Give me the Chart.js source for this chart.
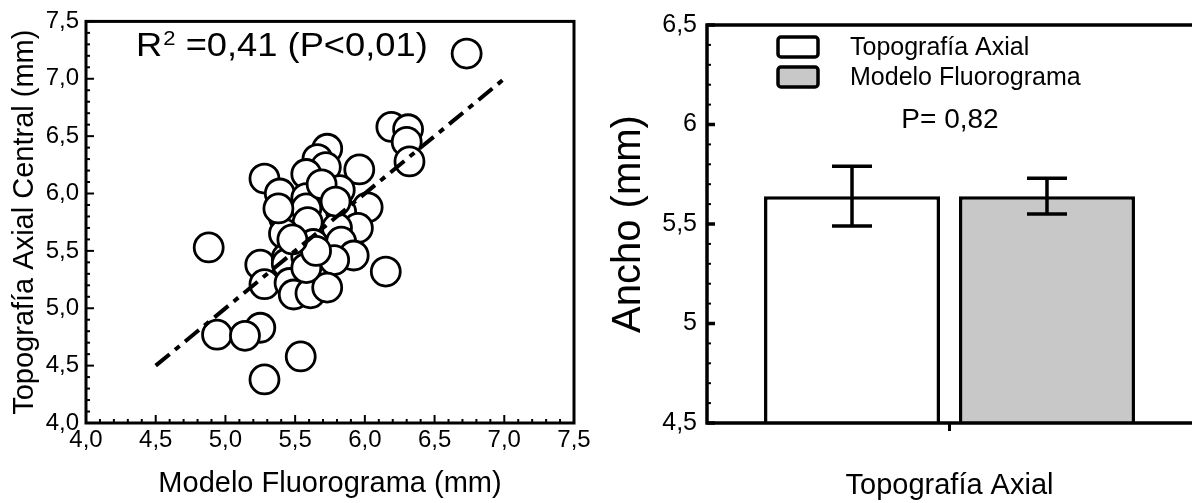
<!DOCTYPE html>
<html><head><meta charset="utf-8">
<script src="https://cdn.jsdelivr.net/npm/chart.js@4/dist/chart.umd.min.js"></script>
<style>
html,body{margin:0;padding:0;background:#fff;}
#wrap{position:relative;width:1192px;height:503px;overflow:hidden;background:#fff;}
#c1{position:absolute;left:0;top:0;}
#c2{position:absolute;left:600px;top:0;}
</style></head><body>
<div id="wrap"><canvas id="c1" width="600" height="503"></canvas><canvas id="c2" width="592" height="503"></canvas></div>
<script>
const FONT = '"Liberation Sans", Arial, Helvetica, sans-serif';

// ---------- Scatter data (left panel) ----------
const fluoroX = [6.73, 6.19, 6.31, 6.30, 6.32, 5.96, 5.73, 5.66, 5.72, 5.58,
                 5.28, 5.39, 5.58, 5.82, 6.02, 5.83, 5.42, 5.58, 5.59, 5.95,
                 5.80, 5.63, 5.42, 5.83, 5.92, 5.78, 4.88, 5.25, 5.44, 5.44,
                 5.58, 6.15, 5.28, 5.46, 5.49, 5.61, 5.73, 5.25, 4.94, 5.14,
                 5.54, 5.28, 5.58, 5.38, 5.69, 5.79, 5.65, 5.48];
const axialY  = [7.22, 6.58, 6.56, 6.45, 6.28, 6.21, 6.39, 6.30, 6.23, 6.17,
                 6.13, 6.00, 5.96, 6.03, 5.88, 5.84, 5.79, 5.87, 5.75, 5.70,
                 5.70, 5.56, 5.65, 5.58, 5.46, 5.42, 5.53, 5.38, 5.44, 5.39,
                 5.45, 5.32, 5.21, 5.22, 5.12, 5.13, 5.18, 4.83, 4.77, 4.76,
                 4.58, 4.38, 5.35, 5.87, 6.08, 5.93, 5.50, 5.60];
const fitLineX = [4.5, 7.0];
const fitLineY = [4.5, 7.0];
const scatterTickValues = [4.0, 4.5, 5.0, 5.5, 6.0, 6.5, 7.0, 7.5];
const scatterTickLabels = ['4,0', '4,5', '5,0', '5,5', '6,0', '6,5', '7,0', '7,5'];
const scatterXTitle = 'Modelo Fluorograma (mm)';
const scatterYTitle = 'Topografía Axial Central (mm)';
const r2Main = 'R';
const r2Sup = '2';
const r2Rest = ' =0,41 (P<0,01)';

// ---------- Bar data (right panel) ----------
const barCategories = ['Topografía Axial'];
const barSeriesNames = ['Topografía Axial', 'Modelo Fluorograma'];
const barMeans = [5.64, 5.64];
const barErrors = [0.15, 0.09];
const barColors = ['#ffffff', '#c8c8c8'];
const barTickValues = [4.5, 5.0, 5.5, 6.0, 6.5];
const barTickLabels = ['4,5', '5', '5,5', '6', '6,5'];
const barYTitle = 'Ancho (mm)';
const pValueLabel = 'P= 0,82';

function labelFor(values, labels, v) {
  for (let i = 0; i < values.length; i++) if (Math.abs(values[i] - v) < 1e-6) return labels[i];
  return '';
}

// ---------- Left chart ----------
const leftFrame = {
  id: 'leftFrame',
  afterDraw(chart) {
    const {ctx, chartArea: a, scales: {x, y}} = chart;
    ctx.save();
    ctx.strokeStyle = '#000';
    ctx.lineWidth = 3;
    ctx.strokeRect(a.left, a.top, a.right - a.left, a.bottom - a.top);
    ctx.lineWidth = 2;
    const minorStep = 0.1;
    const nx = Math.round((x.max - x.min) / minorStep);
    for (let i = 0; i <= nx; i++) {
      const px = x.getPixelForValue(x.min + i * minorStep);
      const len = (i % 5 === 0) ? 8 : 4;
      ctx.beginPath(); ctx.moveTo(px, a.bottom); ctx.lineTo(px, a.bottom - len); ctx.stroke();
    }
    const ny = Math.round((y.max - y.min) / minorStep);
    for (let i = 0; i <= ny; i++) {
      const py = y.getPixelForValue(y.min + i * minorStep);
      const len = (i % 5 === 0) ? 8 : 4;
      ctx.beginPath(); ctx.moveTo(a.left, py); ctx.lineTo(a.left + len, py); ctx.stroke();
    }
    ctx.fillStyle = '#000';
    ctx.textBaseline = 'alphabetic';
    ctx.textAlign = 'left';
    ctx.translate(136, 56);
    ctx.scale(1.1, 1);
    ctx.font = '33px ' + FONT;
    ctx.fillText(r2Main, 0, 0);
    const w1 = ctx.measureText(r2Main).width;
    ctx.font = '20px ' + FONT;
    ctx.fillText(r2Sup, w1 + 1, -11);
    const w2 = ctx.measureText(r2Sup).width;
    ctx.font = '33px ' + FONT;
    ctx.fillText(r2Rest, w1 + w2 + 1, 0);
    ctx.restore();
  }
};

new Chart(document.getElementById('c1'), {
  type: 'scatter',
  data: {
    datasets: [
      {
        type: 'line',
        data: fitLineX.map((v, i) => ({x: v, y: fitLineY[i]})),
        borderColor: '#000',
        borderWidth: 4,
        borderDash: [18, 7, 6, 7],
        pointRadius: 0,
        fill: false,
        order: 0
      },
      {
        data: fluoroX.map((v, i) => ({x: v, y: axialY[i]})),
        pointRadius: 14.5,
        pointBorderWidth: 2.8,
        pointBackgroundColor: '#ffffff',
        pointBorderColor: '#000000',
        order: 1
      }
    ]
  },
  options: {
    responsive: false,
    animation: false,
    layout: {padding: {top: 17, right: 26, left: 0, bottom: 0}},
    plugins: {legend: {display: false}, tooltip: {enabled: false}},
    scales: {
      x: {
        type: 'linear', min: 4.0, max: 7.5,
        afterBuildTicks: s => { s.ticks = scatterTickValues.map(v => ({value: v})); },
        afterFit: s => { s.height = 80; },
        grid: {display: false, drawTicks: false},
        border: {display: false},
        ticks: {
          padding: 3, color: '#000', maxRotation: 0, autoSkip: false,
          font: {family: FONT, size: 24},
          callback: v => labelFor(scatterTickValues, scatterTickLabels, v)
        },
        title: {display: true, text: scatterXTitle, color: '#000',
                font: {family: FONT, size: 29}, padding: {top: 0, bottom: 2}}
      },
      y: {
        type: 'linear', min: 4.0, max: 7.5,
        afterBuildTicks: s => { s.ticks = scatterTickValues.map(v => ({value: v})); },
        afterFit: s => { s.width = 86; },
        grid: {display: false, drawTicks: false},
        border: {display: false},
        ticks: {
          padding: 7, color: '#000', autoSkip: false,
          font: {family: FONT, size: 24},
          callback: v => labelFor(scatterTickValues, scatterTickLabels, v)
        },
        title: {display: true, text: scatterYTitle, color: '#000',
                font: {family: FONT, size: 29}, padding: {top: 8, bottom: 0}}
      }
    }
  },
  plugins: [leftFrame]
});

// ---------- Right chart ----------
const rightDecor = {
  id: 'rightDecor',
  afterDraw(chart) {
    const {ctx, chartArea: a, scales: {x, y}} = chart;
    ctx.save();
    ctx.strokeStyle = '#000';
    ctx.fillStyle = '#000';
    ctx.lineWidth = 3.5;
    ctx.lineCap = 'butt';
    ctx.beginPath();
    ctx.moveTo(a.right + 2, a.top); ctx.lineTo(a.left, a.top); ctx.lineTo(a.left, a.bottom); ctx.lineTo(a.right + 2, a.bottom);
    ctx.stroke();
    const minorStep = 0.1;
    const ny = Math.round((y.max - y.min) / minorStep);
    for (let i = 0; i <= ny; i++) {
      const py = y.getPixelForValue(y.min + i * minorStep);
      const major = (i % 5 === 0);
      ctx.lineWidth = major ? 3.5 : 2;
      const len = major ? 8 : 4;
      ctx.beginPath(); ctx.moveTo(a.left, py); ctx.lineTo(a.left + len, py); ctx.stroke();
    }
    ctx.lineWidth = 3;
    const cx = x.getPixelForValue(0);
    ctx.beginPath(); ctx.moveTo(cx, a.bottom); ctx.lineTo(cx, a.bottom + 8); ctx.stroke();
    ctx.lineWidth = 3.5;
    chart.data.datasets.forEach((ds, di) => {
      const meta = chart.getDatasetMeta(di);
      meta.data.forEach((bar) => {
        const m = barMeans[di], e = barErrors[di];
        const bx = bar.x;
        const yTop = y.getPixelForValue(m + e), yBot = y.getPixelForValue(m - e);
        ctx.beginPath();
        ctx.moveTo(bx, yTop); ctx.lineTo(bx, yBot);
        ctx.moveTo(bx - 20, yTop); ctx.lineTo(bx + 20, yTop);
        ctx.moveTo(bx - 20, yBot); ctx.lineTo(bx + 20, yBot);
        ctx.stroke();
      });
    });
    const boxes = [{y: 37}, {y: 67}];
    ctx.font = '25px ' + FONT;
    ctx.textBaseline = 'middle';
    ctx.textAlign = 'left';
    boxes.forEach((b, i) => {
      ctx.fillStyle = barColors[i];
      ctx.lineWidth = 3.5;
      ctx.beginPath();
      if (ctx.roundRect) ctx.roundRect(178, b.y, 40, 20, 3); else ctx.rect(178, b.y, 40, 20);
      ctx.fill(); ctx.stroke();
      ctx.fillStyle = '#000';
      ctx.fillText(barSeriesNames[i], 250, b.y + 11);
    });
    ctx.font = '28px ' + FONT;
    ctx.textAlign = 'center';
    ctx.fillText(pValueLabel, 350, 120);
    ctx.restore();
  }
};

new Chart(document.getElementById('c2'), {
  type: 'bar',
  data: {
    labels: barCategories,
    datasets: barSeriesNames.map((name, i) => ({
      label: name,
      data: [barMeans[i]],
      backgroundColor: barColors[i],
      borderColor: '#000',
      borderWidth: 3.5,
      borderSkipped: 'start',
      categoryPercentage: 0.804,
      barPercentage: 0.9026
    }))
  },
  options: {
    responsive: false,
    animation: false,
    layout: {padding: {top: 17, right: 0, left: 0, bottom: 0}},
    plugins: {legend: {display: false}, tooltip: {enabled: false}},
    scales: {
      x: {
        afterFit: s => { s.height = 80; },
        grid: {display: false, drawTicks: false},
        border: {display: false},
        ticks: {display: false},
        title: {display: true, text: barCategories[0], color: '#000',
                font: {family: FONT, size: 29}, padding: {top: 0, bottom: 0}}
      },
      y: {
        type: 'linear', min: 4.5, max: 6.5,
        afterBuildTicks: s => { s.ticks = barTickValues.map(v => ({value: v})); },
        afterFit: s => { s.width = 107; },
        grid: {display: false, drawTicks: false},
        border: {display: false},
        ticks: {
          padding: 10, color: '#000',
          font: {family: FONT, size: 25},
          callback: v => labelFor(barTickValues, barTickLabels, v)
        },
        title: {display: true, text: barYTitle, color: '#000',
                font: {family: FONT, size: 40}, padding: {top: 5, bottom: 0}}
      }
    }
  },
  plugins: [rightDecor]
});
</script>
</body></html>
